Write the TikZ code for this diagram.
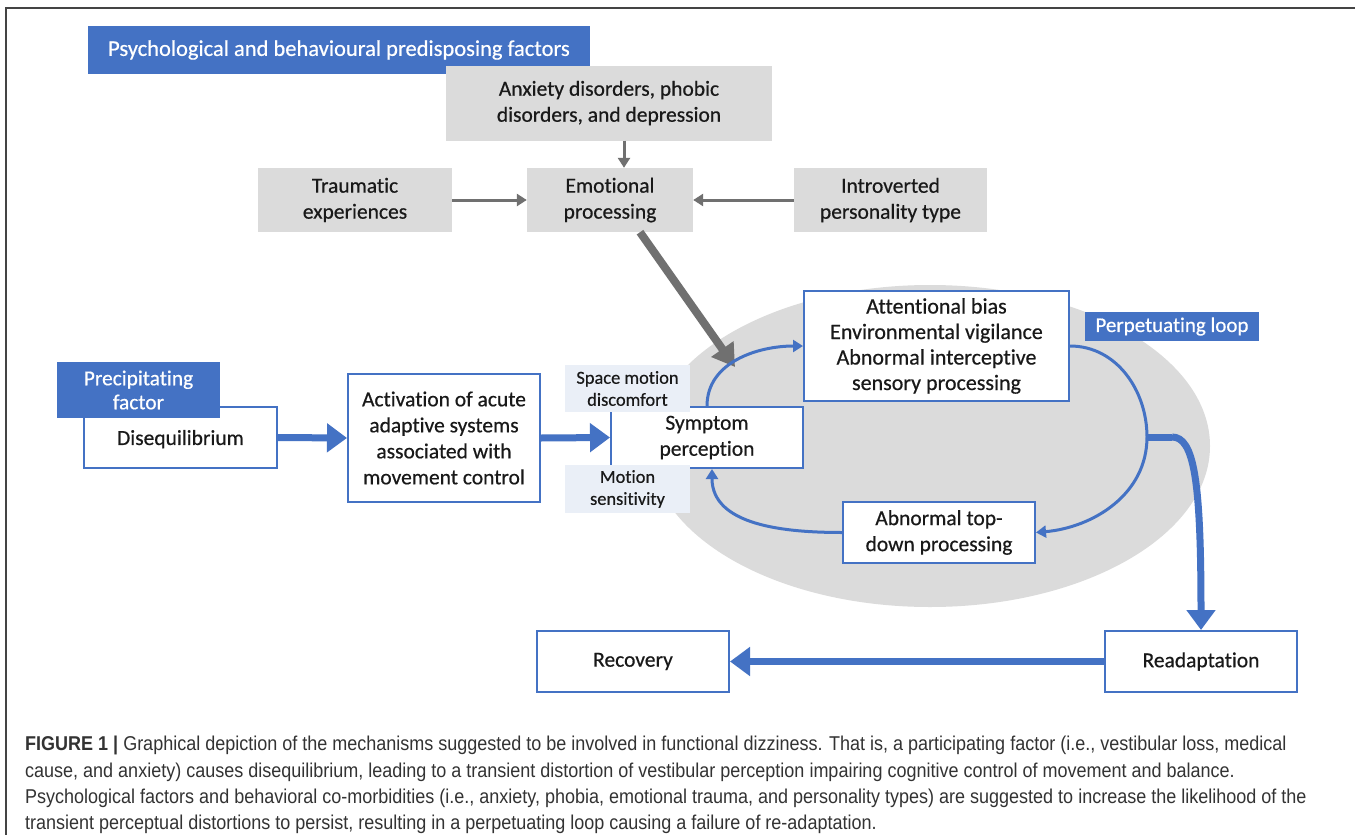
\documentclass[tikz,border=0pt]{standalone}
\usepackage{fontspec}
\setmainfont{Carlito}[Ligatures={NoCommon}, FakeBold=0.5]
\newfontfamily\capfont{Liberation Sans}[FakeStretch=0.9]
\usetikzlibrary{arrows.meta,calc}
\definecolor{oblue}{HTML}{4472C4}
\definecolor{lgray}{HTML}{DBDBDB}
\definecolor{agray}{HTML}{707070}
\definecolor{lblue}{HTML}{EAEFF7}
\definecolor{framec}{HTML}{444444}
\definecolor{capc}{HTML}{333333}
\begin{document}
\begin{tikzpicture}[x=1pt,y=-1pt,
  sz/.style 2 args={minimum width=#1pt, minimum height=#2pt},
  base/.style={inner sep=0pt, align=center, text=black!90, font=\fontsize{21.5}{26}\selectfont},
  bbox/.style={base, draw=oblue, line width=2pt, fill=white},
  gbox/.style={base, fill=lgray},
  hbox/.style={base, fill=oblue, text=white},
  lbbox/.style={base, fill=lblue, font=\fontsize{18.4}{22}\selectfont},
  garrow/.style={draw=agray, line width=3pt, -{Triangle[length=10pt,width=12pt]}},
  gbig/.style={draw=agray, line width=8pt, -{Triangle[length=22pt,width=26pt]}},
  bthin/.style={draw=oblue, line width=3pt, -{Triangle[length=10pt,width=12pt]}},
  bthick/.style={draw=oblue, line width=7pt, -{Triangle[length=20pt,width=28pt]}},
  capline/.style={anchor=base west, inner sep=0pt, text=capc, font=\capfont\fontsize{20}{26}\selectfont}
]
\useasboundingbox (0,0) rectangle (1355,835);
\fill[white] (0,0) rectangle (1355,835);
\draw[framec, line width=2pt] (6,835) -- (6,8) -- (1355,8);

% background ellipse
\fill[lgray] (930,446) ellipse [x radius=280pt, y radius=161pt];

% top group
\node[hbox, sz={502}{48}, font=\fontsize{22.5}{27}\selectfont] (hdr) at (339,50) {Psychological and behavioural predisposing factors};
\node[gbox, sz={326}{75}] (anx) at (609,103) {Anxiety disorders, phobic\\disorders, and depression};
\node[gbox, sz={166}{64}] (emo) at (610,200) {Emotional\\processing};
\node[gbox, sz={194}{64}] (trau) at (355,200) {Traumatic\\experiences};
\node[gbox, sz={193}{64}] (intro) at (890.5,200) {Introverted\\personality type};

% loop boxes
\node[bbox, sz={265}{110}, font=\fontsize{22}{25.5}\selectfont] (att) at (936.5,346) {Attentional bias\\Environmental vigilance\\Abnormal interceptive\\sensory processing};
\node[hbox, sz={174}{29}, font=\fontsize{21}{25}\selectfont] (perp) at (1172,326.5) {Perpetuating loop};
\node[bbox, sz={192}{61}] (sym) at (707,437.5) {Symptom\\perception};
\node[lbbox, sz={125}{47}] (smd) at (627.5,388.5) {Space motion\\discomfort};
\node[lbbox, sz={125}{48}] (ms) at (627.5,489) {Motion\\sensitivity};
\node[bbox, sz={192}{61}] (top) at (939,532.5) {Abnormal top-\\down processing};

% left chain
\node[bbox, sz={193}{61}, text depth=0pt] (dis) at (180.5,437.5) {Disequilibrium};
\node[hbox, sz={163}{56}, font=\fontsize{21.4}{24}\selectfont] (prec) at (138.5,390) {Precipitating\\factor};
\node[bbox, sz={192}{128}] (act) at (444,438) {Activation of acute\\adaptive systems\\associated with\\movement control};

% bottom
\node[bbox, sz={192}{61}] (rec) at (633,661.5) {Recovery};
\node[bbox, sz={192}{61}] (read) at (1201,661.5) {Readaptation};

% gray arrows
\draw[garrow] (anx.south -| 624,0) -- (emo.north -| 624,0);
\draw[garrow] (trau.east) -- (emo.west);
\draw[garrow] (intro.west) -- (emo.east);
\coordinate (gtip) at (735,367);
\draw[gbig] ($(emo.south)+(30,0)$) -- (gtip);

% loop arrows
\coordinate (loopR) at (1147,437);
\draw[bthin] (sym.north) to[out=90,in=180] (att.west);
\draw[draw=oblue, line width=3pt] (att.east) to[out=0,in=90] (loopR);
\draw[bthin] (loopR) to[out=-90,in=5] (top.east);
\draw[bthin] (top.west) to[out=180,in=-90] ($(sym.south)+(5,0)$);

% thick blue arrows
\draw[bthick] (dis.east) -- (act.west);
\draw[bthick] (act.east) -- (sym.west);
\draw[bthick] (read.west) -- (rec.east);
\draw[draw=oblue, line width=7pt] (loopR) -- ++(25,0) coordinate (k);
\draw[bthick] (k) .. controls +(22,0) and +(0,-150) .. (read.north);

% caption
\node[capline] (c1) at (25,750) {{\bfseries FIGURE 1 |} Graphical depiction of the mechanisms suggested to be involved in functional dizziness. That is, a participating factor (i.e., vestibular loss, medical};
\node[capline] (c2) at (25,777) {cause, and anxiety) causes disequilibrium, leading to a transient distortion of vestibular perception impairing cognitive control of movement and balance.};
\node[capline] (c3) at (25,803) {Psychological factors and behavioral co-morbidities (i.e., anxiety, phobia, emotional trauma, and personality types) are suggested to increase the likelihood of the};
\node[capline] (c4) at (25,829) {transient perceptual distortions to persist, resulting in a perpetuating loop causing a failure of re-adaptation.};
\end{tikzpicture}
\end{document}
